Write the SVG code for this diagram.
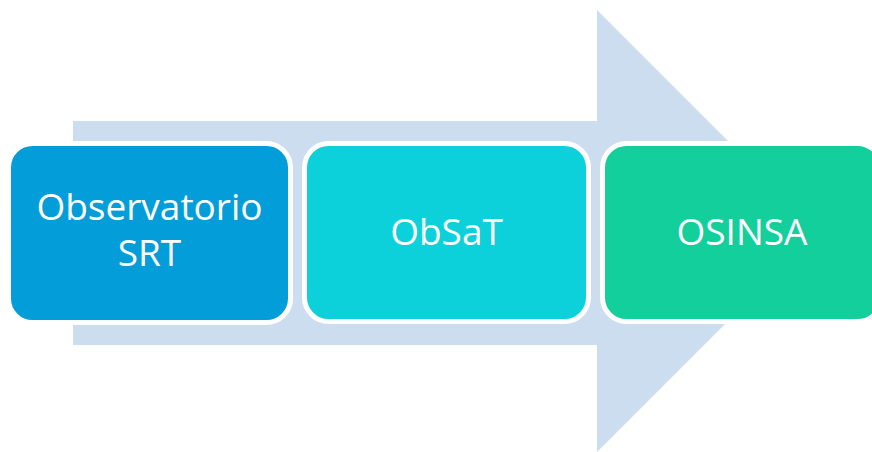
<svg xmlns="http://www.w3.org/2000/svg" width="872" height="452" viewBox="0 0 872 452">
<style>
.box{stroke:#FFFFFF;stroke-width:5}
.lbl{font-family:"Open Sans","Liberation Sans",sans-serif;font-size:37px;fill:#FFFFFF;text-anchor:middle}
</style>
<rect width="872" height="452" fill="#FFFFFF"/>
<g id="connectors">
<polygon points="73,121 597,121 597,10 818,231 597,452 597,345 73,345" fill="#CCDDEF"/>
</g>
<g id="node1">
<rect class="box" x="8.5" y="143.5" width="282" height="179" rx="24" fill="#039DD9"/>
<text class="lbl" x="149.5" y="220">Observatorio</text>
<text class="lbl" x="149.5" y="266">SRT</text>
</g>
<g id="node2">
<rect class="box" x="304.5" y="143.5" width="284" height="178" rx="24" fill="#0DD1DA"/>
<text class="lbl" x="446.5" y="245">ObSaT</text>
</g>
<g id="node3">
<rect class="box" x="602.5" y="143.5" width="279" height="178" rx="24" fill="#13CF9B"/>
<text class="lbl" x="742" y="245">OSINSA</text>
</g>
</svg>
